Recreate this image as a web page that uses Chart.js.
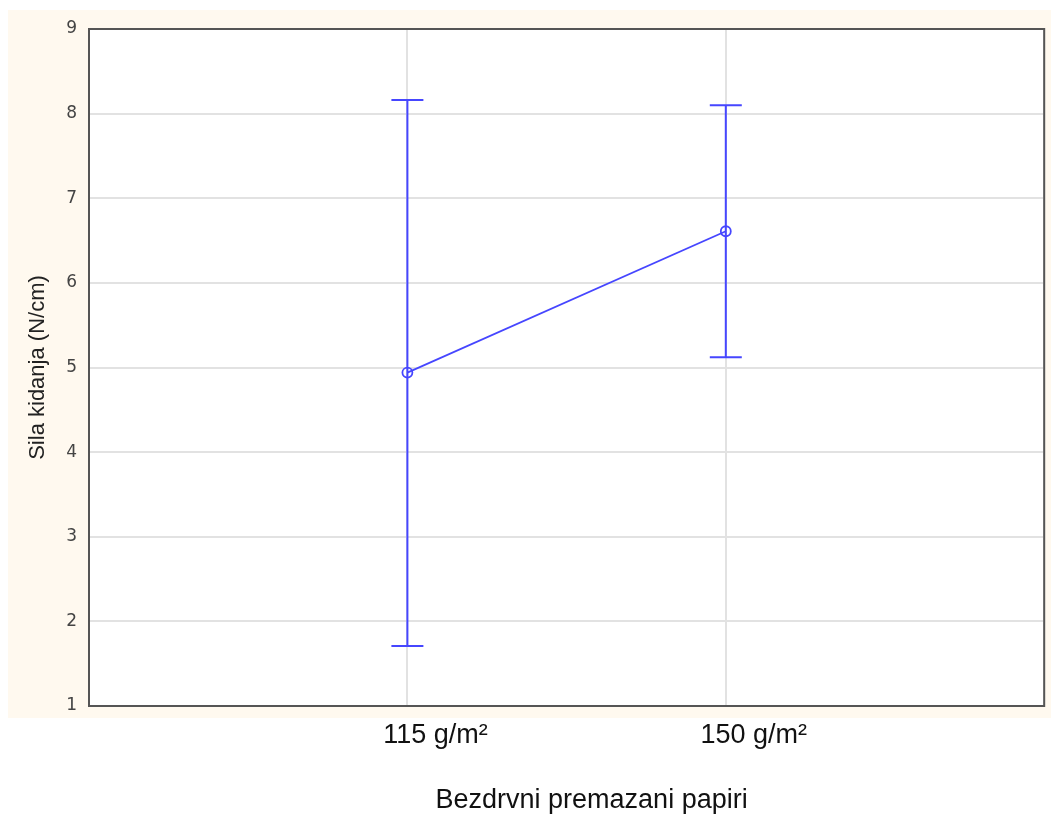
<!DOCTYPE html>
<html>
<head>
<meta charset="utf-8">
<script src="https://cdn.jsdelivr.net/npm/chart.js@4/dist/chart.umd.min.js"></script>
<style>
  html, body { margin: 0; padding: 0; background: #fff; }
  #wrap { width: 1051px; height: 814px; position: relative; }
</style>
</head>
<body>
<div id="wrap"><canvas id="myChart"></canvas></div>
<script>
// podaci sa slike
const kategorije = ['115 g/m\u00b2', '150 g/m\u00b2'];
const srednje = [4.94, 6.61];
const donje = [1.71, 5.12];
const gornje = [8.16, 8.10];
const naslovX = 'Bezdrvni premazani papiri';
const naslovY = 'Sila kidanja (N/cm)';

const plava = '#4646ff';

// krem pozadina + okvir
const pozadina = {
  id: 'pozadina',
  beforeDraw(chart) {
    const a = chart.chartArea, ctx = chart.ctx;
    ctx.save();
    ctx.fillStyle = '#fff9ef';
    ctx.fillRect(a.left - 81, a.top - 19, chart.width - (a.left - 81), a.bottom - a.top + 31);
    ctx.fillStyle = '#fff';
    ctx.fillRect(a.left, a.top, a.right - a.left, a.bottom - a.top);
    ctx.restore();
  },
  afterDraw(chart) {
    const a = chart.chartArea, ctx = chart.ctx;
    ctx.save();
    ctx.strokeStyle = '#555';
    ctx.lineWidth = 2;
    ctx.strokeRect(a.left, a.top, a.right - a.left, a.bottom - a.top);
    // naslov x ose
    ctx.fillStyle = '#111';
    ctx.font = '27px "Liberation Sans", Arial, sans-serif';
    ctx.textAlign = 'center';
    ctx.textBaseline = 'alphabetic';
    ctx.fillText(naslovX, (a.left + a.right) / 2 + 25, 808);
    ctx.restore();
  }
};

// greske (min - max)
const greske = {
  id: 'greske',
  afterDatasetsDraw(chart) {
    const x = chart.scales.x, y = chart.scales.y, ctx = chart.ctx;
    ctx.save();
    ctx.strokeStyle = plava;
    ctx.lineWidth = 2;
    for (let i = 0; i < srednje.length; i++) {
      const px = x.getPixelForValue(i + 1);
      const yTop = y.getPixelForValue(gornje[i]);
      const yBot = y.getPixelForValue(donje[i]);
      ctx.beginPath();
      ctx.moveTo(px, yTop); ctx.lineTo(px, yBot);
      ctx.moveTo(px - 16, yTop); ctx.lineTo(px + 16, yTop);
      ctx.moveTo(px - 16, yBot); ctx.lineTo(px + 16, yBot);
      ctx.stroke();
    }
    ctx.restore();
  }
};

const config = {
  type: 'line',
  data: {
    datasets: [{
      data: srednje.map((v, i) => ({ x: i + 1, y: v })),
      borderColor: plava,
      backgroundColor: 'rgba(0,0,0,0)',
      borderWidth: 1.8,
      pointRadius: 5,
      pointBorderWidth: 1.8,
      pointBorderColor: plava,
      pointBackgroundColor: 'rgba(0,0,0,0)'
    }]
  },
  options: {
    responsive: true,
    maintainAspectRatio: false,
    animation: false,
    layout: { padding: { top: 29, right: 1, left: 0, bottom: 0 } },
    plugins: { legend: { display: false }, tooltip: { enabled: false } },
    scales: {
      x: {
        type: 'linear',
        min: 0, max: 3,
        afterFit(s) { s.height = 108; s.paddingRight = 0; s.paddingLeft = 0; },
        grid: { color: '#e2e2e2', lineWidth: 2, drawTicks: false },
        border: { display: false },
        ticks: {
          stepSize: 1,
          padding: 13,
          labelOffset: 28,
          color: '#111',
          font: { family: '"Liberation Sans", Arial, sans-serif', size: 27 },
          callback: v => (v >= 1 && v <= kategorije.length) ? kategorije[v - 1] : ''
        }
      },
      y: {
        min: 1, max: 9,
        afterFit(s) { s.width = 89; },
        grid: { color: '#e2e2e2', lineWidth: 2, drawTicks: false },
        border: { display: false },
        ticks: {
          stepSize: 1,
          padding: 12,
          color: '#444',
          font: { family: '"DejaVu Sans", sans-serif', size: 17 }
        },
        title: {
          display: true,
          text: naslovY,
          color: '#222',
          padding: { top: 25, bottom: 0 },
          font: { family: '"Liberation Sans", Arial, sans-serif', size: 22 }
        }
      }
    }
  },
  plugins: [pozadina, greske]
};

new Chart(document.getElementById('myChart').getContext('2d'), config);
</script>
</body>
</html>
